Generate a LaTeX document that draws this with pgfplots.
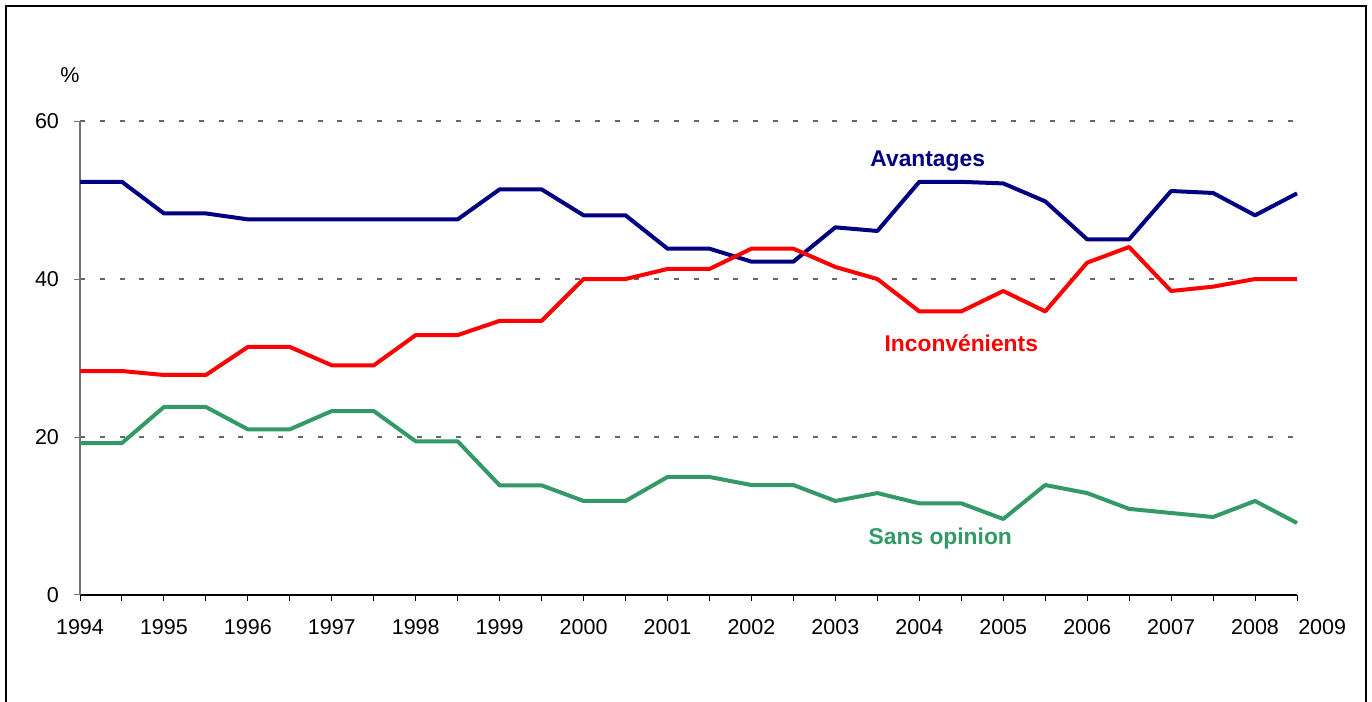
\documentclass[border=0pt]{standalone}
\usepackage{fontspec}
\setmainfont{Liberation Sans}
\usepackage{pgfplots}
\pgfplotsset{compat=1.18}
\usepackage{pgfplotstable}
\definecolor{avcol}{HTML}{000080}
\definecolor{incol}{HTML}{FF0000}
\definecolor{socol}{HTML}{339966}
\newcommand\lbl{\fontsize{10.75}{13}\selectfont}
\newcommand\blbl{\fontsize{11.4}{14}\selectfont\bfseries}
\pgfplotstableread{
c A I S
0 52.3 28.35 19.24
1 52.3 28.35 19.24
2 48.3 27.85 23.8
3 48.3 27.85 23.8
4 47.55 31.4 20.97
5 47.55 31.4 20.97
6 47.55 29.07 23.29
7 47.55 29.07 23.29
8 47.55 32.9 19.45
9 47.55 32.9 19.45
10 51.35 34.7 13.88
11 51.35 34.7 13.88
12 48.06 40 11.9
13 48.06 40 11.9
14 43.84 41.27 14.94
15 43.84 41.27 14.94
16 42.2 43.84 13.92
17 42.2 43.84 13.92
18 46.54 41.52 11.9
19 46.08 40 12.9
20 52.3 35.9 11.6
21 52.3 35.9 11.6
22 52.1 38.48 9.62
23 49.83 35.9 13.92
24 45.02 42.07 12.9
25 45.02 44.05 10.9
26 51.14 38.48 10.38
27 50.89 39.03 9.87
28 48.06 40 11.9
29 50.84 40 9.11
}\data
\begin{document}
\begin{tikzpicture}
\useasboundingbox (0,0) rectangle (686pt,351pt);
\draw[line width=0.75pt] (3pt,-2pt) -- (3pt,348pt) -- (683pt,348pt) -- (683pt,-2pt);
\begin{axis}[
  at={(40pt,53.5pt)}, anchor=south west,
  scale only axis, width=608.5pt, height=237pt,
  xmin=0, xmax=29, ymin=0, ymax=60,
  axis x line=bottom, axis y line=left,
  x axis line style={-, black, line width=0.6pt},
  y axis line style={-, black!55, line width=0.6pt},
  tick align=outside, major tick length=3pt,
  xtick={0,...,29},
  xticklabels={1994,,1995,,1996,,1997,,1998,,1999,,2000,,2001,,2002,,2003,,2004,,2005,,2006,,2007,,2008,},
  ytick={0,20,40,60},
  x tick style={black, line width=0.5pt},
  y tick style={black!55, line width=0.5pt},
  tick label style={font=\lbl, black},
  /pgf/number format/assume math mode=true,
  xticklabel style={yshift=-5.5pt},
  yticklabel style={xshift=-4pt},
  ymajorgrids,
  major grid style={black!60, line width=0.6pt, dash pattern=on 2.5pt off 7.4pt},
  clip=false,
  every axis plot/.append style={line width=2pt, line join=round, mark=none},
]
\addplot[avcol] table[x=c, y=A] {\data};
\addplot[incol] table[x=c, y=I] {\data};
\addplot[socol] table[x=c, y=S] {\data};
\node[font=\blbl, text=avcol, anchor=base] at (axis cs:20.2,54.18) {Avantages};
\node[font=\blbl, text=incol, anchor=base] at (axis cs:21.0,30.76) {Inconvénients};
\node[font=\blbl, text=socol, anchor=base] at (axis cs:20.5,6.33) {Sans opinion};
\node[font=\lbl, anchor=north, yshift=-8.5pt] at (axis cs:29.6,0) {2009};
\node[font=\lbl] at (axis cs:-0.24,65.8) {\%};
\end{axis}
\end{tikzpicture}
\end{document}
